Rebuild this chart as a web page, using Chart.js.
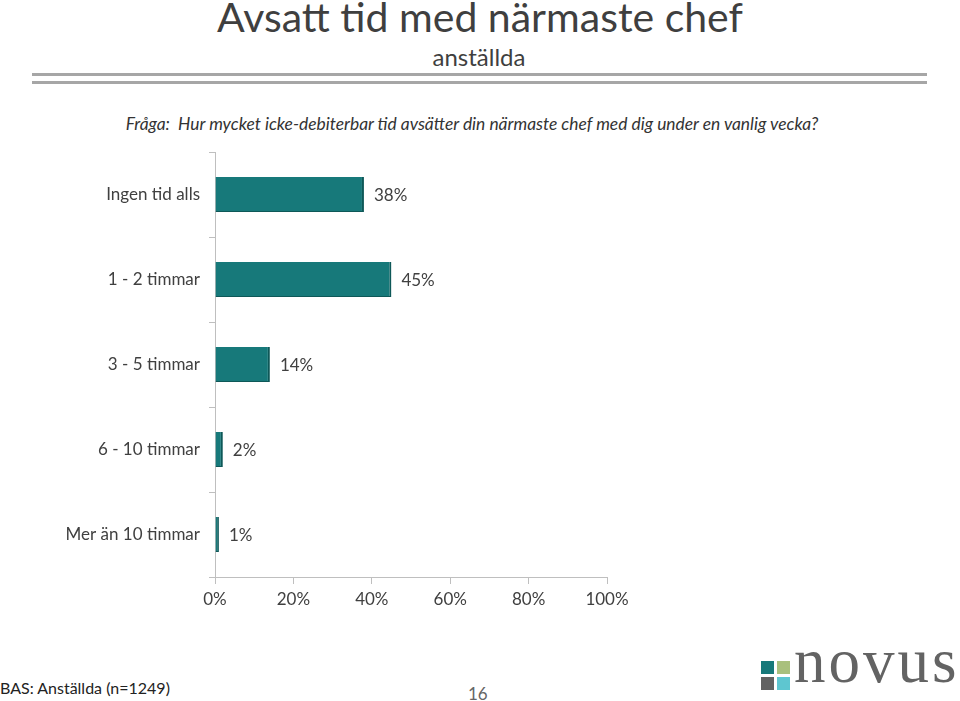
<!DOCTYPE html>
<html><head><meta charset="utf-8">
<script src="https://cdn.jsdelivr.net/npm/chart.js@4"></script>
<style>
body{margin:0;width:960px;height:701px;position:relative;background:#fff;font-family:Lato,'Open Sans',sans-serif;color:#404040;overflow:hidden}
.t{position:absolute;white-space:nowrap}
canvas{position:absolute;left:0;top:0}
</style></head><body>
<div class="t" style="left:0;width:960px;text-align:center;top:-8px;font-size:41px;color:#3f3f3f">Avsatt tid med närmaste chef</div>
<div class="t" style="left:0;width:958px;text-align:center;top:42px;font-size:24px;color:#3f3f3f">anställda</div>
<div style="position:absolute;left:32px;width:895px;top:73px;height:3px;background:#a6a6a6"></div>
<div style="position:absolute;left:32px;width:895px;top:81px;height:3px;background:#a6a6a6"></div>
<div class="t" style="left:0;width:944px;text-align:center;top:113px;font-size:17.4px;font-style:italic;color:#333">Fråga:&nbsp; Hur mycket icke-debiterbar tid avsätter din närmaste chef med dig under en vanlig vecka?</div>
<div class="t" style="left:0;top:678px;font-size:16px;color:#222">BAS: Anställda (n=1249)</div>
<div class="t" style="left:468px;top:683px;font-size:17px;color:#666">16</div>
<div style="position:absolute;left:761px;top:661px;width:13px;height:13px;background:#17797a"></div>
<div style="position:absolute;left:777px;top:661px;width:13px;height:13px;background:#a9c07d"></div>
<div style="position:absolute;left:761px;top:677px;width:13px;height:13px;background:#626262"></div>
<div style="position:absolute;left:777px;top:677px;width:13px;height:13px;background:#5ec6d0"></div>
<div class="t" style="left:794px;top:625px;font-size:63px;font-family:'Liberation Serif',serif;color:#636363;letter-spacing:3px">novus</div>
<canvas id="c" width="960" height="701"></canvas>
<script>
const categories=["Ingen tid alls","1 - 2 timmar","3 - 5 timmar","6 - 10 timmar","Mer än 10 timmar"];
const values=[38,45,14,2,1];
const xTicks=[0,20,40,60,80,100];
const labelPlugin={id:'lbl',afterDatasetsDraw(ch){const c=ch.ctx;const m=ch.getDatasetMeta(0);c.save();c.font='17px Lato, sans-serif';c.fillStyle='#404040';c.textBaseline='middle';m.data.forEach((b,i)=>{c.fillText(values[i]+'%',b.x+10,b.y+1);});c.restore();}};
new Chart(document.getElementById('c'),{type:'bar',
data:{labels:categories,datasets:[{data:values,backgroundColor:'#17797a',borderColor:'#0e5858',borderWidth:{right:2,bottom:1,top:0,left:0},barPercentage:0.41,categoryPercentage:1,borderSkipped:false}]},
options:{indexAxis:'y',responsive:false,animation:false,events:[],
layout:{padding:{top:152,right:353,left:0,bottom:0}},
plugins:{legend:{display:false},tooltip:{enabled:false}},
scales:{
x:{min:0,max:100,afterBuildTicks(a){a.ticks=xTicks.map(v=>({value:v}));},afterFit(a){a.height=124;},
 ticks:{callback:v=>v+'%',font:{size:17,family:'Lato'},color:'#404040',padding:5},
 grid:{drawOnChartArea:false,tickLength:7,color:'#bfbfbf'},border:{color:'#bfbfbf'}},
y:{afterFit(a){a.width=215;},ticks:{font:{size:17,family:'Lato'},color:'#404040',padding:9},
 grid:{offset:true,drawOnChartArea:false,tickLength:6,color:'#bfbfbf'},border:{color:'#bfbfbf'}}}},
plugins:[labelPlugin]});
</script></body></html>
